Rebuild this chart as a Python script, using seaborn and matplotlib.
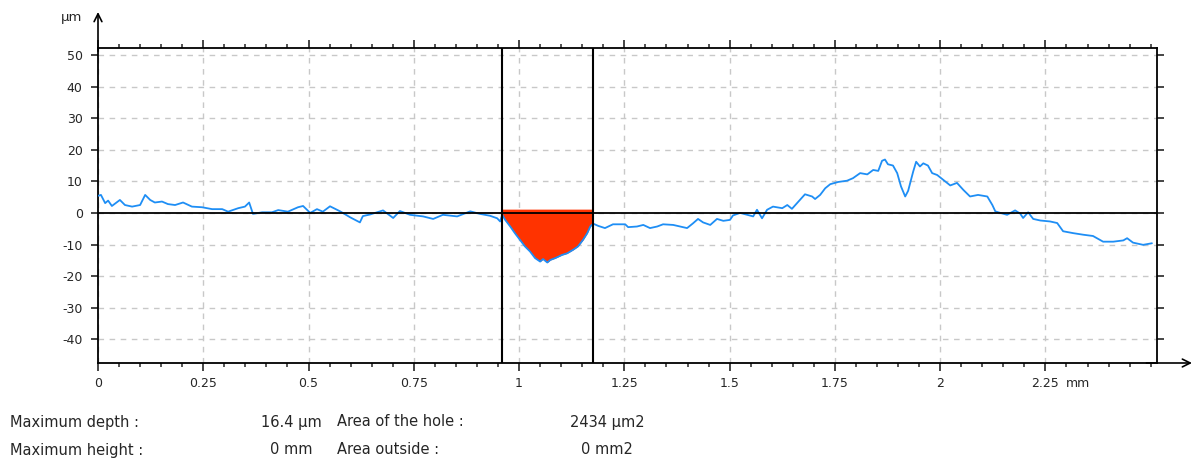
import numpy as np
import pandas as pd
import seaborn as sns
from matplotlib import pyplot as plt
from matplotlib.ticker import MultipleLocator, FixedLocator

# profile (mm, µm)
pos_mm = [0.000, 0.007, 0.017, 0.024, 0.033, 0.052, 0.064, 0.081, 0.100, 0.112,
          0.124, 0.135, 0.152, 0.166, 0.183, 0.202, 0.223, 0.247, 0.271, 0.295,
          0.309, 0.333, 0.349, 0.359, 0.368, 0.390, 0.413, 0.428, 0.451, 0.475,
          0.487, 0.504, 0.520, 0.534, 0.551, 0.575, 0.599, 0.622, 0.629, 0.646,
          0.677, 0.701, 0.717, 0.741, 0.772, 0.796, 0.819, 0.853, 0.884, 0.907,
          0.931, 0.948, 0.955, 0.960, 0.967, 0.979, 0.990, 1.002, 1.014, 1.026,
          1.038, 1.050, 1.057, 1.067, 1.074, 1.086, 1.102, 1.114, 1.128, 1.140,
          1.152, 1.162, 1.169, 1.176, 1.188, 1.204, 1.223, 1.252, 1.259, 1.280,
          1.295, 1.311, 1.328, 1.342, 1.366, 1.382, 1.399, 1.413, 1.425, 1.437,
          1.454, 1.470, 1.485, 1.501, 1.508, 1.525, 1.542, 1.556, 1.565, 1.577,
          1.589, 1.603, 1.625, 1.637, 1.648, 1.660, 1.679, 1.696, 1.703, 1.715,
          1.727, 1.739, 1.758, 1.779, 1.793, 1.810, 1.827, 1.841, 1.853, 1.862,
          1.869, 1.876, 1.888, 1.898, 1.907, 1.917, 1.924, 1.936, 1.943, 1.952,
          1.960, 1.971, 1.981, 1.993, 2.007, 2.024, 2.040, 2.055, 2.071, 2.090,
          2.112, 2.124, 2.131, 2.138, 2.159, 2.178, 2.190, 2.197, 2.209, 2.221,
          2.238, 2.261, 2.278, 2.292, 2.316, 2.340, 2.363, 2.387, 2.411, 2.435,
          2.444, 2.458, 2.482, 2.503]
height_um = [5.4, 5.7, 3.1, 3.9, 2.2, 4.1, 2.5, 2.0, 2.5, 5.7,
             4.1, 3.3, 3.6, 2.8, 2.5, 3.3, 2.0, 1.8, 1.2, 1.2,
             0.4, 1.5, 2.0, 3.3, -0.3, 0.2, 0.2, 0.9, 0.4, 1.8,
             2.2, 0.0, 1.2, 0.4, 2.1, 0.5, -1.4, -3.0, -1.0, -0.5,
             0.8, -1.6, 0.6, -0.6, -1.1, -1.9, -0.6, -1.1, 0.5, -0.3,
             -0.9, -1.7, -2.7, -0.6, -2.2, -4.3, -6.4, -8.5, -10.6, -12.2,
             -14.3, -15.4, -14.6, -15.7, -14.9, -14.3, -13.3, -12.8, -11.7, -10.6,
             -8.5, -6.4, -4.3, -3.4, -4.1, -4.8, -3.6, -3.6, -4.5, -4.3,
             -3.8, -4.8, -4.3, -3.6, -3.8, -4.3, -4.8, -3.3, -1.9, -3.0,
             -3.8, -1.9, -2.5, -2.2, -0.8, 0.0, -0.6, -1.1, 1.0, -1.7,
             1.0, 2.0, 1.5, 2.5, 1.3, 3.1, 5.9, 5.2, 4.4, 5.7,
             7.8, 9.1, 9.8, 10.2, 11.0, 12.6, 12.2, 13.6, 13.3, 16.5,
             16.9, 15.4, 15.0, 12.6, 8.4, 5.2, 7.0, 13.1, 16.2, 14.7,
             15.7, 15.0, 12.6, 12.0, 10.5, 8.7, 9.5, 7.3, 5.2, 5.7,
             5.2, 2.5, 0.5, 0.2, -0.6, 0.8, -0.2, -1.6, 0.2, -1.9,
             -2.4, -2.7, -3.2, -5.8, -6.4, -6.9, -7.3, -9.1, -9.1, -8.7,
             -8.0, -9.4, -10.1, -9.6]

hole_start = 0.960
hole_end = 1.176
hole_top = 1.2

x_ticks = [0, 0.25, 0.5, 0.75, 1, 1.25, 1.5, 1.75, 2, 2.25]
x_labels = ["0", "0.25", "0.5", "0.75", "1", "1.25", "1.5", "1.75", "2", "2.25"]
y_ticks = [50, 40, 30, 20, 10, 0, -10, -20, -30, -40]

stats_left = [("Maximum depth :", "16.4 µm"), ("Maximum height :", "0 mm")]
stats_right = [("Area of the hole :", "2434 µm2"), ("Area outside :", "0 mm2")]

df = pd.DataFrame({"x": pos_mm, "z": height_um})

sns.set_style("white")
plt.rcParams["font.family"] = ["DejaVu Sans"]
txt_col = "#262626"

fig = plt.figure(figsize=(11.93, 4.62), dpi=100)
ax = fig.add_axes([98 / 1193, 99 / 462, 1059 / 1193, 315 / 462])

ax.set_xlim(0, 2.515)
ax.set_ylim(-47.5, 52.2)

ax.grid(True, which="major", color="#c8c8c8", linestyle=(0, (4, 4)), linewidth=1)
ax.set_axisbelow(True)

# hole fill
seg = df[(df.x >= hole_start) & (df.x <= hole_end)]
ax.fill_between(seg.x, seg.z, hole_top, color="#ff3300", linewidth=0, zorder=2)

sns.lineplot(data=df, x="x", y="z", ax=ax, color="#1e8ef5", linewidth=1.3,
             sort=False, estimator=None, zorder=3)

ax.axhline(0, color="black", linewidth=1.3, zorder=4)
ax.axvline(hole_start, color="black", linewidth=1.5, zorder=4)
ax.axvline(hole_end, color="black", linewidth=1.5, zorder=4)

for s in ax.spines.values():
    s.set_color("black")
    s.set_linewidth(1.3)

ax.xaxis.set_major_locator(FixedLocator(x_ticks))
ax.xaxis.set_minor_locator(MultipleLocator(0.05))
ax.set_xticklabels(x_labels)
ax.yaxis.set_major_locator(FixedLocator(y_ticks))
ax.set_yticklabels([str(v) for v in y_ticks])

ax.tick_params(axis="x", which="major", direction="out", length=6, width=1.2,
               top=True, bottom=True, labelsize=9, labelcolor=txt_col, pad=4)
ax.tick_params(axis="x", which="minor", direction="out", length=3, width=1.1,
               top=True, bottom=True)
ax.tick_params(axis="y", which="major", direction="out", length=5, width=1.2,
               left=True, right=True, labelsize=9, labelcolor=txt_col, pad=6)
ax.set_xlabel("")
ax.set_ylabel("")

# axis arrows
ax.annotate("", xy=(1 + 35 / 1059, 0), xytext=(0.99, 0), xycoords="axes fraction",
            arrowprops=dict(arrowstyle="->", lw=1.2, color="black",
                            shrinkA=0, shrinkB=0, mutation_scale=14))
ax.annotate("", xy=(0, 1 + 36 / 315), xytext=(0, 0.99), xycoords="axes fraction",
            arrowprops=dict(arrowstyle="->", lw=1.2, color="black",
                            shrinkA=0, shrinkB=0, mutation_scale=14))

fig.text(72 / 1193, 1 - 18 / 462, "µm", ha="center", va="center", fontsize=9.5,
         color=txt_col)
ax.annotate("mm", xy=(2.25, 0), xycoords=("data", "axes fraction"),
            xytext=(15, -10), textcoords="offset points", ha="left", va="top",
            fontsize=9, color=txt_col)

for i, (lab, val) in enumerate(stats_left):
    y = 1 - (422 + 28 * i) / 462
    fig.text(10 / 1193, y, lab, ha="left", va="center", fontsize=10.5, color=txt_col)
    fig.text(291 / 1193, y, val, ha="center", va="center", fontsize=10.5, color=txt_col)
for i, (lab, val) in enumerate(stats_right):
    y = 1 - (422 + 28 * i) / 462
    fig.text(337 / 1193, y, lab, ha="left", va="center", fontsize=10.5, color=txt_col)
    fig.text(607 / 1193, y, val, ha="center", va="center", fontsize=10.5, color=txt_col)

fig.savefig("out.png", dpi=100)
